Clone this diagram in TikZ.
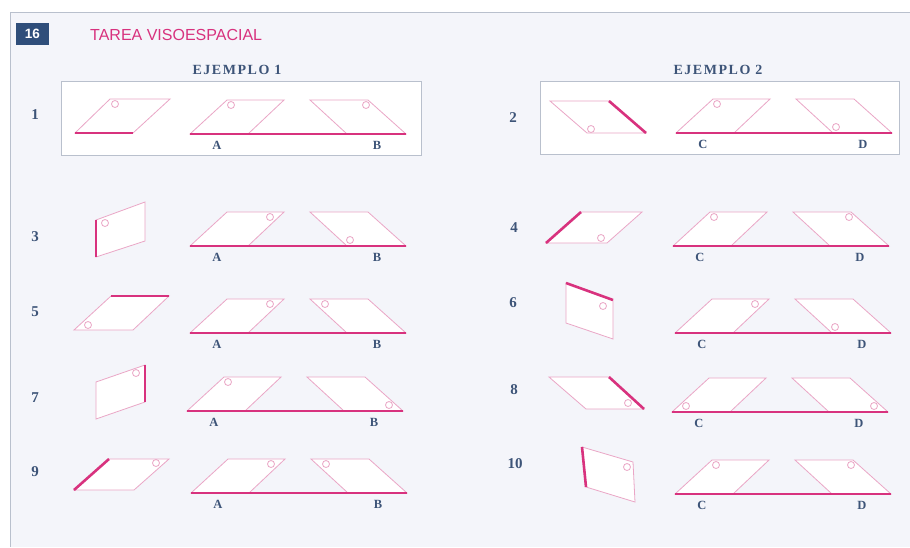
\documentclass[tikz,border=0pt]{standalone}
\usepackage{fontspec}
\setmainfont{Liberation Serif}
\newfontfamily\headfont{Liberation Sans}
\newfontfamily\spacedfont[LetterSpace=11]{Liberation Serif}
\usetikzlibrary{positioning}
\usepackage{xcolor}
\definecolor{pagebg}{HTML}{F4F5FA}
\definecolor{framegray}{HTML}{B9C0CD}
\definecolor{navy}{HTML}{2F4E7A}
\definecolor{inkblue}{HTML}{3D5478}
\definecolor{rose}{HTML}{D8327E}
\definecolor{roselight}{HTML}{EAA6C6}

\begin{document}
\begin{tikzpicture}[
    x=1pt, y=-1pt,
    face/.style={draw=roselight, line width=0.8pt, fill=white},
    edge/.style={draw=rose, line width=2.6pt},
    hole/.style={draw=roselight, line width=0.8pt, fill=white},
    num/.style={text=inkblue, font=\fontsize{15}{15}\selectfont\bfseries},
    letter/.style={text=inkblue, font=\fontsize{12.5}{12.5}\selectfont\bfseries},
    heading/.style={text=inkblue, font=\spacedfont\fontsize{14}{14}\selectfont\bfseries},
    examplebox/.style={draw=framegray, line width=0.8pt, fill=white},
    % the two answer shapes on one base line
    pics/answers/.style n args={4}{code={
        \draw[face] (0,0) -- (58,0) -- (94,-34) -- (37,-34) -- cycle;
        \draw[face] (120,-34) -- (178,-34) -- (216,0) -- (157,0) -- cycle;
        \draw[hole] (#1) circle[radius=3.5];
        \draw[hole] (#2) circle[radius=3.5];
        \draw[edge] (0,0) -- (216,0);
        \node[letter] (-l) at (27,11) {#3};
        \node[letter] (-r) at (187,11) {#4};
    }}
]
    \useasboundingbox (0,0) rectangle (910,547);

    % Page
    \fill[pagebg] (10,12) rectangle (910,547);
    \draw[framegray, line width=0.8pt] (910,12) -- (10,12) -- (10,547);

    % Header
    \node[fill=navy, text=white, minimum width=33pt, minimum height=22pt,
          inner sep=0pt, font=\headfont\fontsize{13.5}{13.5}\selectfont\bfseries] (badge) at (32.5,34) {16};
    \node[anchor=west, text=rose, inner sep=0pt, font=\headfont\fontsize{16}{16}\selectfont] (title) at (90,35) {TAREA VISOESPACIAL};

    % Examples
    \node[heading] (ej1) at (237,70) {EJEMPLO 1};
    \node[heading] (ej2) at (718,70) {EJEMPLO 2};
    \draw[examplebox] (61,81) rectangle (421,155);
    \draw[examplebox] (540,81) rectangle (899,154);

    % Item numbers
    \node[num] (n1) at (35,115) {1};
    \node[num] (n2) at (513,118) {2};
    \node[num] (n3) at (35,237) {3};
    \node[num] (n4) at (514,228) {4};
    \node[num] (n5) at (35,312) {5};
    \node[num] (n6) at (513,303) {6};
    \node[num] (n7) at (35,398) {7};
    \node[num] (n8) at (514,390) {8};
    \node[num] (n9) at (35,472) {9};
    \node[num] (n10) at (515,464) {10};

    % Left column: cue shapes
    \draw[face] (75,133) -- (133,133) -- (170,99) -- (110,99) -- cycle;
    \draw[hole] (115,104) circle[radius=3.5];
    \draw[edge] (75,133) -- (133,133);
    \draw[face] (96,220) -- (145,202) -- (145,241) -- (96,257) -- cycle;
    \draw[hole] (105,223) circle[radius=3.5];
    \draw[edge] (96,220) -- (96,257);
    \draw[face] (74,330) -- (133,330) -- (169,296) -- (111,296) -- cycle;
    \draw[hole] (88,325) circle[radius=3.5];
    \draw[edge] (111,296) -- (169,296);
    \draw[face] (96,382) -- (145,365) -- (145,402) -- (96,419) -- cycle;
    \draw[hole] (136,373) circle[radius=3.5];
    \draw[edge] (145,365) -- (145,402);
    \draw[face] (74,490) -- (134,490) -- (169,459) -- (109,459) -- cycle;
    \draw[hole] (156,463) circle[radius=3.5];
    \draw[edge] (74,490) -- (109,459);

    % Right column: cue shapes
    \draw[face] (550,101) -- (609,101) -- (646,133) -- (587,133) -- cycle;
    \draw[hole] (591,129) circle[radius=3.5];
    \draw[edge] (609,101) -- (646,133);
    \draw[face] (546,243) -- (607,243) -- (642,212) -- (581,212) -- cycle;
    \draw[hole] (601,238) circle[radius=3.5];
    \draw[edge] (546,243) -- (581,212);
    \draw[face] (566,283) -- (613,300) -- (613,339) -- (566,323) -- cycle;
    \draw[hole] (603,306) circle[radius=3.5];
    \draw[edge] (566,283) -- (613,300);
    \draw[face] (549,377) -- (609,377) -- (644,409) -- (586,409) -- cycle;
    \draw[hole] (628,403) circle[radius=3.5];
    \draw[edge] (609,377) -- (644,409);
    \draw[face] (582,447) -- (633,462) -- (635,502) -- (586,487) -- cycle;
    \draw[hole] (627,467) circle[radius=3.5];
    \draw[edge] (582,447) -- (586,487);

    % Answer pairs
    \pic (r1) at (190,134) {answers={41,-29}{176,-29}{A}{B}};
    \pic (r3) at (190,246) {answers={80,-29}{160,-6}{A}{B}};
    \pic (r5) at (190,333) {answers={80,-29}{135,-29}{A}{B}};
    \pic (r7) at (187,411) {answers={41,-29}{202,-6}{A}{B}};
    \pic (r9) at (191,493) {answers={80,-29}{135,-29}{A}{B}};
    \pic (r2) at (676,133) {answers={41,-29}{160,-6}{C}{D}};
    \pic (r4) at (673,246) {answers={41,-29}{176,-29}{C}{D}};
    \pic (r6) at (675,333) {answers={80,-29}{160,-6}{C}{D}};
    \pic (r8) at (672,412) {answers={14,-6}{202,-6}{C}{D}};
    \pic (r10) at (675,494) {answers={41,-29}{176,-29}{C}{D}};
\end{tikzpicture}
\end{document}
